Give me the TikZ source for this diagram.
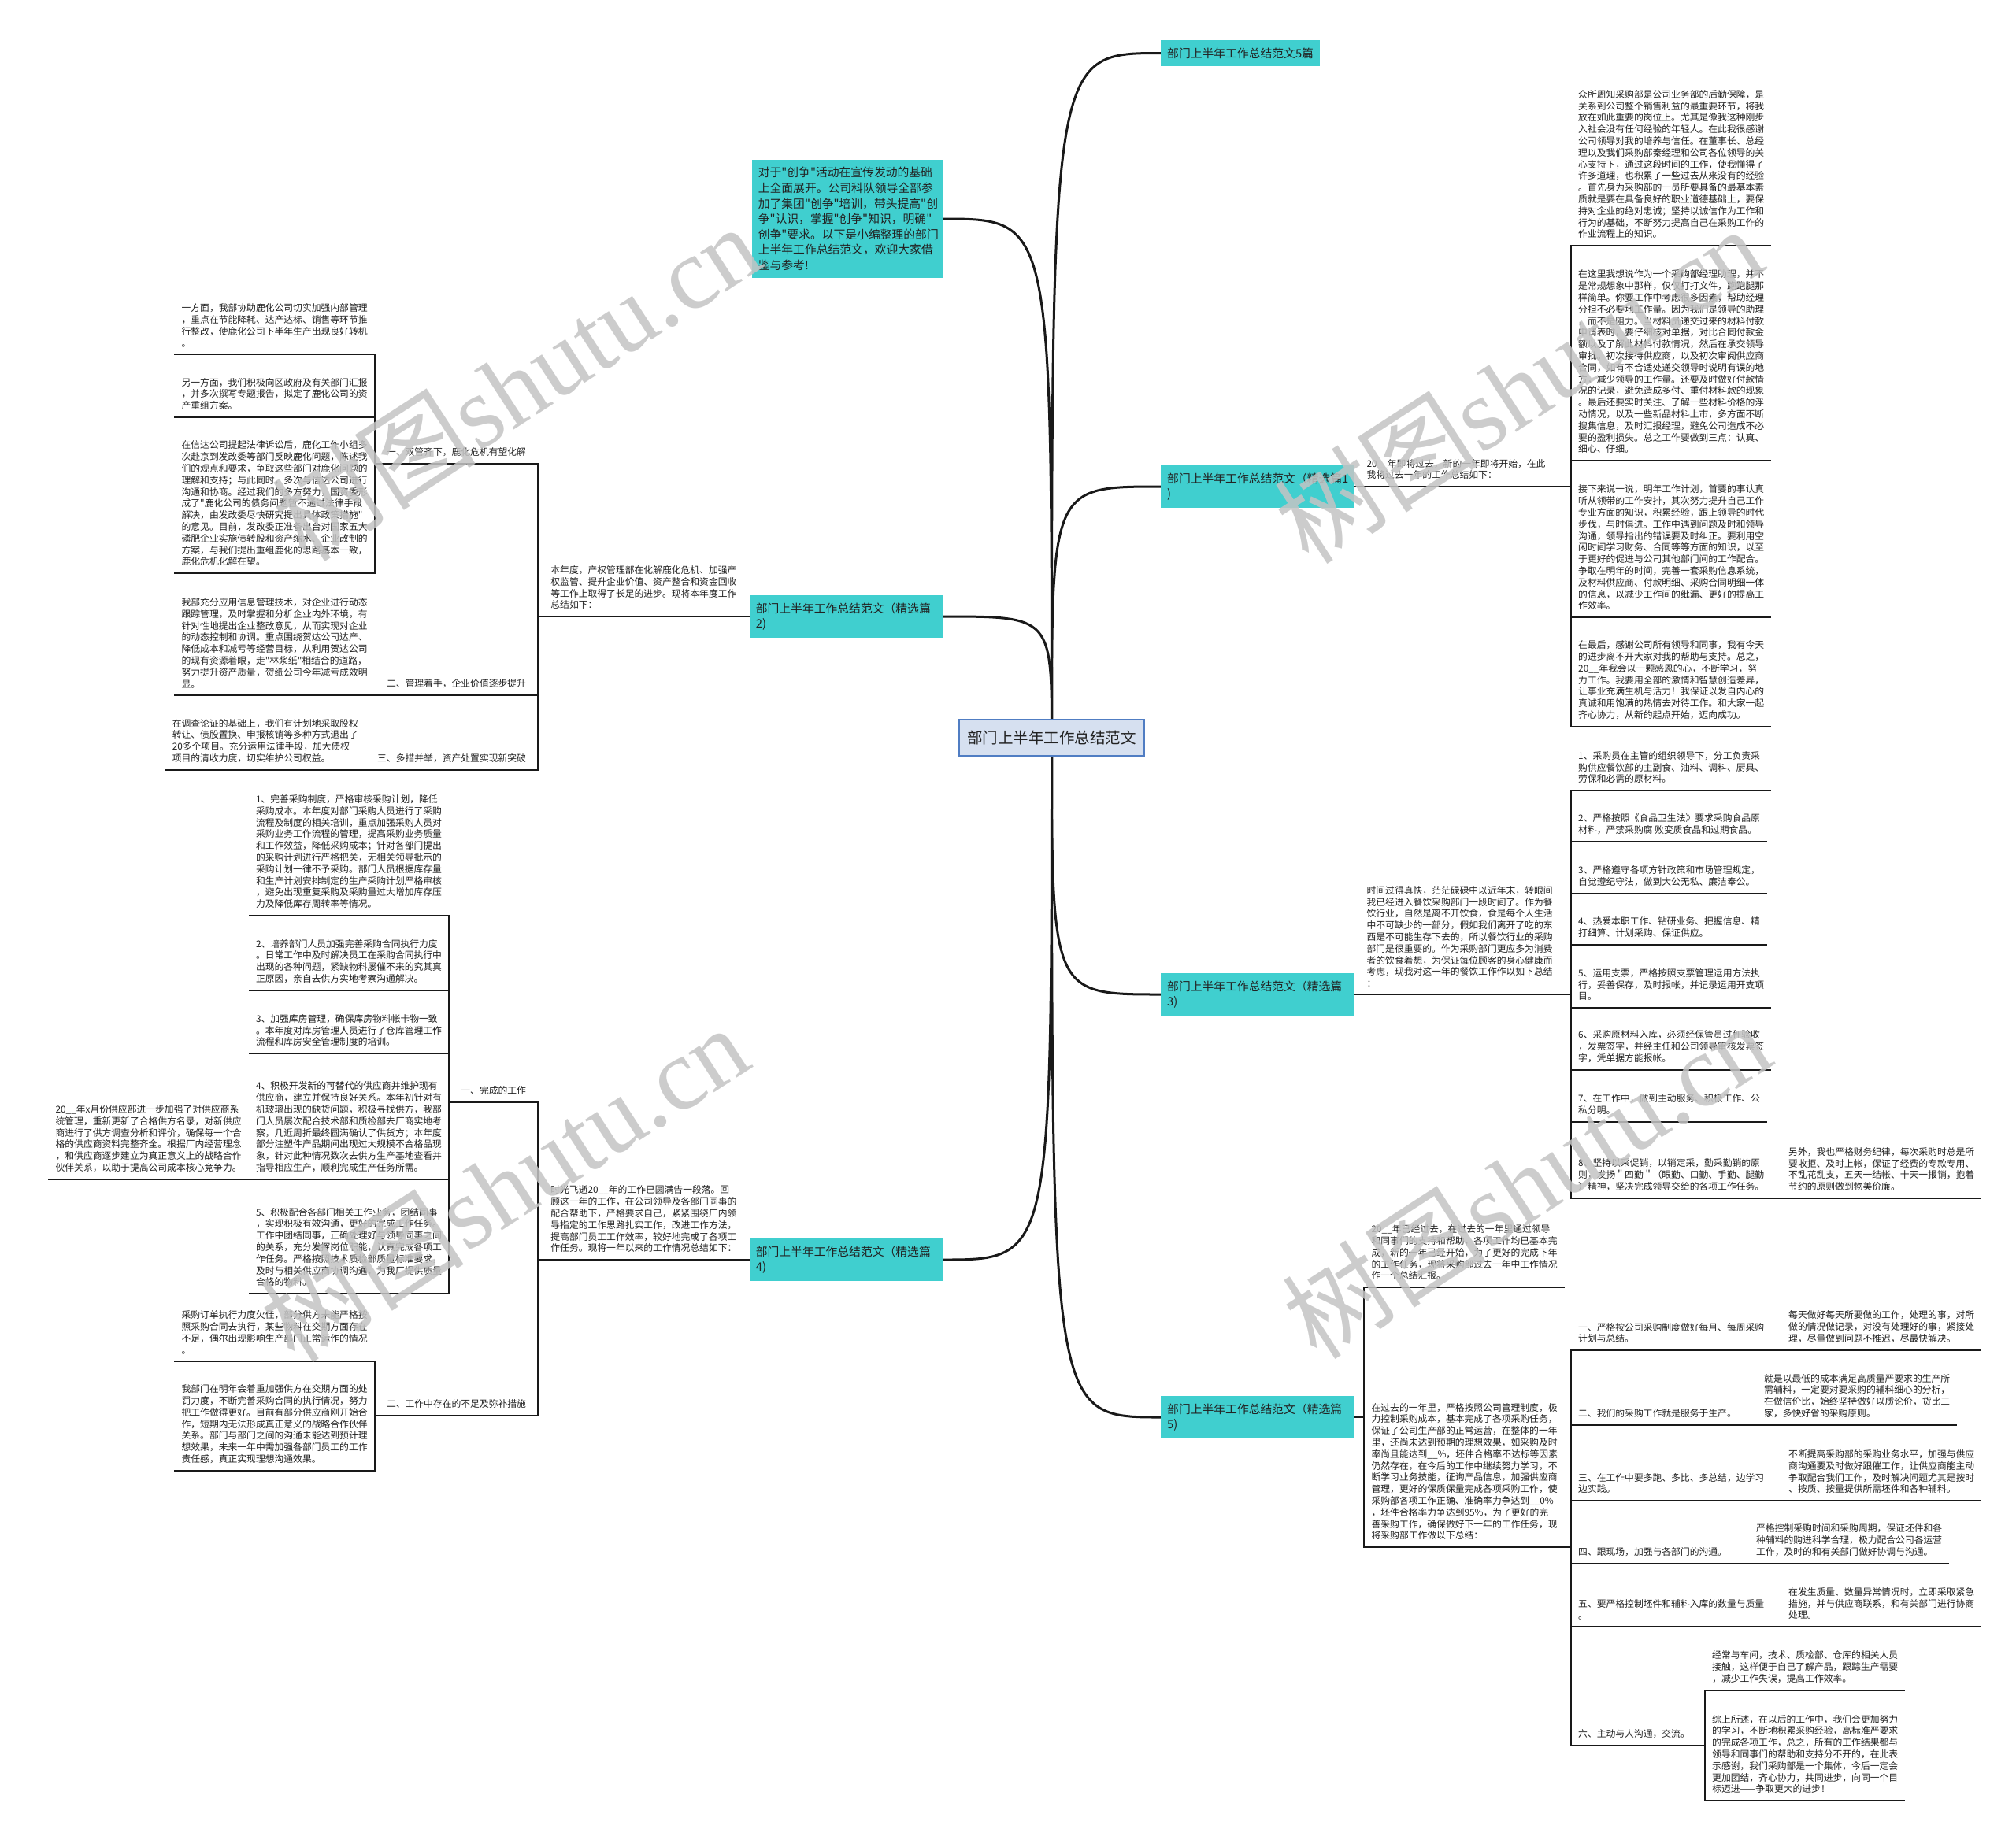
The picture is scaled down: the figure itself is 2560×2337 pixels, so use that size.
\documentclass[tikz,border=0pt]{standalone}
\usepackage{fontspec}
\newfontfamily\cjk{Noto Sans CJK SC}
\newfontfamily\wmserif{Liberation Serif}
\usepackage{tikz}
\usetikzlibrary{positioning,backgrounds}
\definecolor{tealbox}{RGB}{64,207,207}
\definecolor{rootfill}{RGB}{214,224,240}
\definecolor{rootline}{RGB}{80,125,195}
\definecolor{inkgrey}{RGB}{34,34,34}
\definecolor{wmgrey}{RGB}{196,196,196}
\tikzset{
  root/.style  ={draw=rootline, fill=rootfill, line width=1.4pt, text=inkgrey,
                 font=\cjk\fontsize{19.5}{24}\selectfont, minimum width=235pt,
                 minimum height=46pt, inner sep=0pt},
  topic/.style ={fill=tealbox, text=inkgrey, align=left, inner xsep=8pt, inner ysep=9.5pt,
                 font=\cjk\fontsize{14.8}{19.6}\selectfont},
  leaf/.style  ={text=inkgrey, align=left, inner xsep=9pt, inner ysep=9pt,
                 font=\cjk\fontsize{11.8}{14.8}\selectfont},
  lbl/.style   ={leaf, inner xsep=15pt},
  lead/.style  ={leaf, inner xsep=16pt},
  wire/.style  ={draw=black!90, line width=2pt},
  branch/.style={draw=black!90, line width=3pt},
  wm/.style    ={text=wmgrey, text opacity=0.85, rotate=33, inner sep=0pt},
}

\begin{document}
\begin{tikzpicture}[x=1pt,y=-1pt]
\useasboundingbox (0,0) rectangle (2560,2337);

% root and main topics
\node[root] (root) at (1335.5,937) {部门上半年工作总结范文};
\node[topic, anchor=west] (t0) at (1474,67.5) {部门上半年工作总结范文5篇};
\node[topic, anchor=east, text width=226pt] (intro) at (1197,278) {对于"创争"活动在宣传发动的基础\\上全面展开。公司科队领导全部参\\加了集团"创争"培训，带头提高"创\\争"认识，掌握"创争"知识，明确"\\创争"要求。以下是小编整理的部门\\上半年工作总结范文，欢迎大家借\\鉴与参考!};
\node[topic, anchor=west, text width=229pt] (t1) at (1474,618) {部门上半年工作总结范文（精选篇1\\)};
\node[topic, anchor=east, text width=229pt] (t2) at (1197,783) {部门上半年工作总结范文（精选篇\\2)};
\node[topic, anchor=west, text width=229pt] (t3) at (1474,1263) {部门上半年工作总结范文（精选篇\\3)};
\node[topic, anchor=east, text width=229pt] (t4) at (1197,1600) {部门上半年工作总结范文（精选篇\\4)};
\node[topic, anchor=west, text width=229pt] (t5) at (1474,1800) {部门上半年工作总结范文（精选篇\\5)};

% topic 1
\node[lead, anchor=south west] (p1) at (t1.east) {20\_\_年即将过去，新的一年即将开始，在此\\我将过去一年的工作总结如下：};
\node[leaf, anchor=south west] (a1) at (1995,312) {众所周知采购部是公司业务部的后勤保障，是\\关系到公司整个销售利益的最重要环节，将我\\放在如此重要的岗位上。尤其是像我这种刚步\\入社会没有任何经验的年轻人。在此我很感谢\\公司领导对我的培养与信任。在董事长、总经\\理以及我们采购部秦经理和公司各位领导的关\\心支持下，通过这段时间的工作，使我懂得了\\许多道理，也积累了一些过去从来没有的经验\\。首先身为采购部的一员所要具备的最基本素\\质就是要在具备良好的职业道德基础上，要保\\持对企业的绝对忠诚；坚持以诚信作为工作和\\行为的基础，不断努力提高自己在采购工作的\\作业流程上的知识。};
\node[leaf, anchor=south west] (a2) at (1995,585) {在这里我想说作为一个采购部经理助理，并不\\是常规想象中那样，仅仅打打文件，跑跑腿那\\样简单。你要工作中考虑很多因素，帮助经理\\分担不必要地工作量。因为我们是领导的助理\\，而不是阻力。当材料员递交过来的材料付款\\申请表时，要仔细核对单据，对比合同付款金\\额以及了解此材料付款情况，然后在承交领导\\审批。初次接待供应商，以及初次审阅供应商\\合同，如有不合适处递交领导时说明有误的地\\方，减少领导的工作量。还要及时做好付款情\\况的记录，避免造成多付、重付材料款的现象\\。最后还要实时关注、了解一些材料价格的浮\\动情况，以及一些新品材料上市，多方面不断\\搜集信息，及时汇报经理，避免公司造成不必\\要的盈利损失。总之工作要做到三点：认真、\\细心、仔细。};
\node[leaf, anchor=south west] (a3) at (1995,784) {接下来说一说，明年工作计划，首要的事认真\\听从领带的工作安排，其次努力提升自己工作\\专业方面的知识，积累经验，跟上领导的时代\\步伐，与时俱进。工作中遇到问题及时和领导\\沟通，领导指出的错误要及时纠正。要利用空\\闲时间学习财务、合同等等方面的知识，以至\\于更好的促进与公司其他部门间的工作配合。\\争取在明年的时间，完善一套采购信息系统，\\及材料供应商、付款明细、采购合同明细一体\\的信息，以减少工作间的纰漏、更好的提高工\\作效率。};
\node[leaf, anchor=south west] (a4) at (1995,923) {在最后，感谢公司所有领导和同事，我有今天\\的进步离不开大家对我的帮助与支持。总之，\\20\_\_年我会以一颗感恩的心，不断学习，努\\力工作。我要用全部的激情和智慧创造差异，\\让事业充满生机与活力！我保证以发自内心的\\真诚和用饱满的热情去对待工作。和大家一起\\齐心协力，从新的起点开始，迈向成功。};

% topic 2
\node[lead, anchor=south east] (p2) at (t2.west) {本年度，产权管理部在化解鹿化危机、加强产\\权监管、提升企业价值、资产整合和资金回收\\等工作上取得了长足的进步。现将本年度工作\\总结如下：};
\node[lbl, anchor=south east] (g1) at (p2.south west |- 0,589) {一、双管齐下，鹿化危机有望化解};
\node[lbl, anchor=south east] (g2) at (p2.south west |- 0,883) {二、管理着手，企业价值逐步提升};
\node[lbl, anchor=south east] (g3) at (p2.south west |- 0,978) {三、多措并举，资产处置实现新突破};
\node[leaf, anchor=south east] (g1a) at (g1.south west |- 0,450) {一方面，我部协助鹿化公司切实加强内部管理\\，重点在节能降耗、达产达标、销售等环节推\\行整改，使鹿化公司下半年生产出现良好转机\\。};
\node[leaf, anchor=south east] (g1b) at (g1.south west |- 0,530) {另一方面，我们积极向区政府及有关部门汇报\\，并多次撰写专题报告，拟定了鹿化公司的资\\产重组方案。};
\node[leaf, anchor=south east] (g1c) at (g1.south west |- 0,728) {在信达公司提起法律诉讼后，鹿化工作小组多\\次赴京到发改委等部门反映鹿化问题，陈述我\\们的观点和要求，争取这些部门对鹿化问题的\\理解和支持；与此同时，多次与信达公司进行\\沟通和协商。经过我们的多方努力，国资委形\\成了"鹿化公司的债务问题暂不通过法律手段\\解决，由发改委尽快研究提出具体政策措施"\\的意见。目前，发改委正准备出台对国家五大\\磷肥企业实施债转股和资产缩水、企业改制的\\方案，与我们提出重组鹿化的思路基本一致，\\鹿化危机化解在望。};
\node[leaf, anchor=south east] (g2a) at (g2.south west) {我部充分应用信息管理技术，对企业进行动态\\跟踪管理，及时掌握和分析企业内外环境，有\\针对性地提出企业整改意见，从而实现对企业\\的动态控制和协调。重点围绕贺达公司达产、\\降低成本和减亏等经营目标，从利用贺达公司\\的现有资源着眼，走"林浆纸"相结合的道路，\\努力提升资产质量，贺纸公司今年减亏成效明\\显。};
\node[leaf, anchor=south east] (g3a) at (g3.south west) {在调查论证的基础上，我们有计划地采取股权\\转让、债股置换、申报核销等多种方式退出了\\20多个项目。充分运用法律手段，加大债权\\项目的清收力度，切实维护公司权益。};

% topic 3
\node[lead, anchor=south west] (p3) at (t3.east) {时间过得真快，茫茫碌碌中以近年末，转眼间\\我已经进入餐饮采购部门一段时间了。作为餐\\饮行业，自然是离不开饮食，食是每个人生活\\中不可缺少的一部分，假如我们离开了吃的东\\西是不可能生存下去的，所以餐饮行业的采购\\部门是很重要的。作为采购部门更应多为消费\\者的饮食着想，为保证每位顾客的身心健康而\\考虑，现我对这一年的餐饮工作作以如下总结\\：};
\node[leaf, anchor=south west] (b1) at (1995,1004) {1、采购员在主管的组织领导下，分工负责采\\购供应餐饮部的主副食、油料、调料、厨具、\\劳保和必需的原材料。};
\node[leaf, anchor=south west] (b2) at (1995,1069) {2、严格按照《食品卫生法》要求采购食品原\\材料，严禁采购腐 败变质食品和过期食品。};
\node[leaf, anchor=south west] (b3) at (1995,1135) {3、严格遵守各项方针政策和市场管理规定，\\自觉遵纪守法，做到大公无私、廉洁奉公。};
\node[leaf, anchor=south west] (b4) at (1995,1200) {4、热爱本职工作、钻研业务、把握信息、精\\打细算、计划采购、保证供应。};
\node[leaf, anchor=south west] (b5) at (1995,1280) {5、运用支票，严格按照支票管理运用方法执\\行，妥善保存，及时报帐，并记录运用开支项\\目。};
\node[leaf, anchor=south west] (b6) at (1995,1359) {6、采购原材料入库，必须经保管员过秤验收\\，发票签字，并经主任和公司领导审核发票签\\字，凭单据方能报帐。};
\node[leaf, anchor=south west] (b7) at (1995,1425) {7、在工作中，做到主动服务、积极工作、公\\私分明。};
\node[leaf, anchor=south west] (b8) at (1995,1522) {8、坚持以采促销，以销定采，勤采勤销的原\\则，发扬＂四勤＂（眼勤、口勤、手勤、腿勤\\）精神，坚决完成领导交给的各项工作任务。};
\node[leaf, anchor=south west] (b8a) at (2262,1522) {另外，我也严格财务纪律，每次采购时总是所\\要收拒、及时上帐，保证了经费的专款专用、\\不乱花乱支，五天一结帐、十天一报销，抱着\\节约的原则做到物美价廉。};

% topic 4
\node[lead, anchor=south east] (p4) at (t4.west) {时光飞逝20\_\_年的工作已圆满告一段落。回\\顾这一年的工作，在公司领导及各部门同事的\\配合帮助下，严格要求自己，紧紧围绕厂内领\\导指定的工作思路扎实工作，改进工作方法，\\提高部门员工工作效率，较好地完成了各项工\\作任务。现将一年以来的工作情况总结如下：};
\node[lbl, anchor=south east] (h1) at (p4.south west |- 0,1400) {一、完成的工作};
\node[lbl, anchor=south east] (h2) at (p4.south west |- 0,1798) {二、工作中存在的不足及弥补措施};
\node[leaf, anchor=south east] (h1a) at (h1.south west |- 0,1163) {1、完善采购制度，严格审核采购计划，降低\\采购成本。本年度对部门采购人员进行了采购\\流程及制度的相关培训，重点加强采购人员对\\采购业务工作流程的管理，提高采购业务质量\\和工作效益，降低采购成本；针对各部门提出\\的采购计划进行严格把关，无相关领导批示的\\采购计划一律不予采购。部门人员根据库存量\\和生产计划安排制定的生产采购计划严格审核\\，避免出现重复采购及采购量过大增加库存压\\力及降低库存周转率等情况。};
\node[leaf, anchor=south east] (h1b) at (h1.south west |- 0,1258) {2、培养部门人员加强完善采购合同执行力度\\。日常工作中及时解决员工在采购合同执行中\\出现的各种问题，紧缺物料屡催不来的究其真\\正原因，亲自去供方实地考察沟通解决。};
\node[leaf, anchor=south east] (h1c) at (h1.south west |- 0,1338) {3、加强库房管理，确保库房物料帐卡物一致\\。本年度对库房管理人员进行了仓库管理工作\\流程和库房安全管理制度的培训。};
\node[leaf, anchor=south east] (h1d) at (h1.south west |- 0,1498) {4、积极开发新的可替代的供应商并维护现有\\供应商，建立并保持良好关系。本年初针对有\\机玻璃出现的缺货问题，积极寻找供方，我部\\门人员屡次配合技术部和质检部去厂商实地考\\察，几近周折最终圆满确认了供货方；本年度\\部分注塑件产品期间出现过大规模不合格品现\\象，针对此种情况数次去供方生产基地查看并\\指导相应生产，顺利完成生产任务所需。};
\node[leaf, anchor=south east] (h1e) at (h1.south west |- 0,1643) {5、积极配合各部门相关工作业务，团结同事\\，实现积极有效沟通，更好的完成工作任务。\\工作中团结同事，正确处理好与领导同事之间\\的关系，充分发挥岗位职能，认真完成各项工\\作任务。严格按照技术质检部质量标准要求，\\及时与相关供应商协调沟通，为我厂提供质量\\合格的物料。};
\node[leaf, anchor=south east] (h1dx) at (h1d.south west) {20\_\_年x月份供应部进一步加强了对供应商系\\统管理，重新更新了合格供方名录，对新供应\\商进行了供方调查分析和评价，确保每一个合\\格的供应商资料完整齐全。根据厂内经营理念\\，和供应商逐步建立为真正意义上的战略合作\\伙伴关系，以助于提高公司成本核心竞争力。};
\node[leaf, anchor=south east] (h2a) at (h2.south west |- 0,1729) {采购订单执行力度欠佳，部分供方未能严格按\\照采购合同去执行，某些物料在交期方面存在\\不足，偶尔出现影响生产部门正常运作的情况\\。};
\node[leaf, anchor=south east] (h2b) at (h2.south west |- 0,1868) {我部门在明年会着重加强供方在交期方面的处\\罚力度，不断完善采购合同的执行情况，努力\\把工作做得更好。目前有部分供应商刚开始合\\作，短期内无法形成真正意义的战略合作伙伴\\关系。部门与部门之间的沟通未能达到预计理\\想效果，未来一年中需加强各部门员工的工作\\责任感，真正实现理想沟通效果。};

% topic 5
\coordinate (t5r) at ([xshift=13pt]t5.east);
\node[leaf, anchor=south west] (q1) at (t5r |- 0,1635) {20\_\_年已经过去，在过去的一年里通过领导\\和同事们的支持和帮助，各项工作均已基本完\\成，新的一年已经开始，为了更好的完成下年\\的工作任务，现将采购部过去一年中工作情况\\作一个总结汇报。};
\node[leaf, anchor=south west] (q2) at (t5r |- 0,1965) {在过去的一年里，严格按照公司管理制度，极\\力控制采购成本，基本完成了各项采购任务，\\保证了公司生产部的正常运营，在整体的一年\\里，还尚未达到预期的理想效果，如采购及时\\率尚且能达到\_\_\%，坯件合格率不达标等因素\\仍然存在，在今后的工作中继续努力学习，不\\断学习业务技能，征询产品信息，加强供应商\\管理，更好的保质保量完成各项采购工作，使\\采购部各项工作正确、准确率力争达到\_\_0\%\\，坯件合格率力争达到95\%，为了更好的完\\善采购工作，确保做好下一年的工作任务，现\\将采购部工作做以下总结：};
\node[leaf, anchor=south west] (s1) at (1995,1715) {一、严格按公司采购制度做好每月、每周采购\\计划与总结。};
\node[leaf, anchor=south west] (s2) at (1995,1810) {二、我们的采购工作就是服务于生产。};
\node[leaf, anchor=south west] (s3) at (1995,1906) {三、在工作中要多跑、多比、多总结，边学习\\边实践。};
\node[leaf, anchor=south west] (s4) at (1995,1986) {四、跟现场，加强与各部门的沟通。};
\node[leaf, anchor=south west] (s5) at (1995,2066) {五、要严格控制坯件和辅料入库的数量与质量\\。};
\node[leaf, anchor=south west] (s6) at (1995,2217) {六、主动与人沟通，交流。};
\node[leaf, anchor=south west] (s1a) at (2262,1715) {每天做好每天所要做的工作，处理的事，对所\\做的情况做记录，对没有处理好的事，紧接处\\理，尽量做到问题不推迟，尽最快解决。};
\node[leaf, anchor=south west] (s2a) at (2231,1810) {就是以最低的成本满足高质量严要求的生产所\\需辅料，一定要对要采购的辅料细心的分析，\\在做信价比，始终坚持做好以质论价，货比三\\家，多快好省的采购原则。};
\node[leaf, anchor=south west] (s3a) at (2262,1906) {不断提高采购部的采购业务水平，加强与供应\\商沟通要及时做好跟催工作，让供应商能主动\\争取配合我们工作，及时解决问题尤其是按时\\、按质、按量提供所需坯件和各种辅料。};
\node[leaf, anchor=south west] (s4a) at (2221,1986) {严格控制采购时间和采购周期，保证坯件和各\\种辅料的购进科学合理，极力配合公司各运营\\工作，及时的和有关部门做好协调与沟通。};
\node[leaf, anchor=south west] (s5a) at (2262,2066) {在发生质量、数量异常情况时，立即采取紧急\\措施，并与供应商联系，和有关部门进行协商\\处理。};
\node[leaf, anchor=south west] (s6a) at (2165,2147) {经常与车间，技术、质检部、仓库的相关人员\\接触，这样便于自己了解产品，跟踪生产需要\\，减少工作失误，提高工作效率。};
\node[leaf, anchor=south west] (s6b) at (2165,2287) {综上所述，在以后的工作中，我们会更加努力\\的学习，不断地积累采购经验，高标准严要求\\的完成各项工作，总之，所有的工作结果都与\\领导和同事们的帮助和支持分不开的，在此表\\示感谢，我们采购部是一个集体，今后一定会\\更加团结，齐心协力，共同进步，向同一个目\\标迈进——争取更大的进步！};

% underlined connectors, right side
\foreach \p/\c in {p1/a1,p1/a2,p1/a3,p1/a4,p3/b1,p3/b2,p3/b3,p3/b4,p3/b5,p3/b6,p3/b7,p3/b8,b8/b8a,
                   q2/s1,q2/s2,q2/s3,q2/s4,q2/s5,q2/s6,s1/s1a,s2/s2a,s3/s3a,s4/s4a,s5/s5a,s6/s6a,s6/s6b}
  \draw[wire] (\p.south east) -| (\c.south west) -- (\c.south east);
\foreach \t/\p in {t1/p1,t3/p3}
  \draw[wire] (\t.east) -- (\p.south west) -- (\p.south east);
\draw[wire] (t5.east) -- (t5r);
\foreach \c in {q1,q2}
  \draw[wire] (t5r) |- (\c.south west) -- (\c.south east);

% underlined connectors, left side
\foreach \p/\c in {p2/g1,p2/g2,p2/g3,g1/g1a,g1/g1b,g1/g1c,g2/g2a,g3/g3a,
                   p4/h1,p4/h2,h1/h1a,h1/h1b,h1/h1c,h1/h1d,h1/h1e,h1d/h1dx,h2/h2a,h2/h2b}
  \draw[wire] (\p.south west) -| (\c.south east) -- (\c.south west);
\foreach \t/\p in {t2/p2,t4/p4}
  \draw[wire] (\t.west) -- (\p.south east) -- (\p.south west);

% watermarks over everything
\foreach \x/\y [count=\i] in {655/485,1928/488,640/1502,1938/1498}
  \node[wm] (wm\i) at (\x,\y) {\cjk\fontsize{130}{130}\selectfont 树图\wmserif shutu.cn};

\begin{scope}[on background layer]
\fill[white] (0,0) rectangle (2560,2337);
\foreach \t/\a in {t0/west,t1/west,t3/west,t5/west,intro/east,t2/east,t4/east}
  \draw[branch] (root.center) .. controls (root.center |- \t.\a) .. (\t.\a);
\end{scope}
\end{tikzpicture}
\end{document}
